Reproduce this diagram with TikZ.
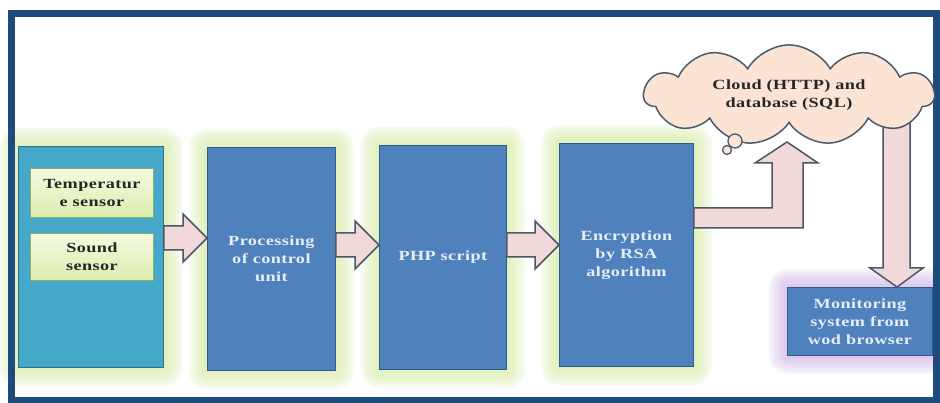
\documentclass[tikz,border=0pt]{standalone}
\usepackage{fontspec}
\setmainfont{Liberation Serif}
\newfontfamily\lblfont[FakeStretch=1.3,LetterSpace=3]{Liberation Serif}
\usetikzlibrary{shapes.symbols,calc}

\definecolor{framec}{HTML}{1F4A7C}
\definecolor{tealfill}{HTML}{45A8C8}
\definecolor{tealedge}{HTML}{2F6F8A}
\definecolor{sensTop}{HTML}{F4FAE0}
\definecolor{sensBot}{HTML}{DCEDB0}
\definecolor{sensEdge}{HTML}{8FAE70}
\definecolor{boxblue}{HTML}{4F81BD}
\definecolor{boxedge}{HTML}{2E5C8E}
\definecolor{boxtext}{HTML}{E6EEF8}
\definecolor{cloudfill}{HTML}{FCE4D4}
\definecolor{cloudedge}{HTML}{4D5A6A}
\definecolor{arrowfill}{HTML}{F2D9D9}
\definecolor{arrowedge}{HTML}{4D5566}
\definecolor{glowgreen}{HTML}{D6EDA6}
\definecolor{glowpurple}{HTML}{CDAEE3}

\pgfdeclarelayer{back}
\pgfdeclarelayer{glow}
\pgfsetlayers{back,glow,main}

% horizontal block arrow between two nodes: #1 from, #2 to, #3 centre y
\newcommand{\blockarrowh}[3]{%
  \draw[barrow] ($(#1.east |- 0,#3)+(0,-12)$) -- ($(#2.west |- 0,#3)+(-24,-12)$)
    -- ($(#2.west |- 0,#3)+(-24,-24)$) -- (#2.west |- 0,#3)
    -- ($(#2.west |- 0,#3)+(-24,24)$) -- ($(#2.west |- 0,#3)+(-24,12)$)
    -- ($(#1.east |- 0,#3)+(0,12)$) -- cycle;}

% soft halo behind a node: #1 node, #2 colour, #3 opacity per ring
\newcommand{\halo}[3]{%
  \begin{pgfonlayer}{glow}
    \foreach \d in {18,15,12,9,6,3}
      \fill[#2, opacity=#3, rounded corners=\d]
        ($(#1.north west)+(-\d,-\d)$) rectangle ($(#1.south east)+(\d,\d)$);
  \end{pgfonlayer}}

\begin{document}
\begin{tikzpicture}[x=1pt, y=-1pt,
  lbl/.style={font=\lblfont\bfseries\fontsize{14}{18}\selectfont, align=center},
  sensbox/.style={fill=tealfill, draw=tealedge, line width=0.8pt, anchor=north west},
  sbox/.style={lbl, top color=sensTop, bottom color=sensBot, draw=sensEdge,
    line width=0.8pt, text=black!85, anchor=north west, inner sep=0pt},
  blk/.style={lbl, fill=boxblue, draw=boxedge, line width=0.8pt, text=boxtext,
    anchor=north west, inner sep=0pt},
  barrow/.style={fill=arrowfill, draw=arrowedge, line width=1.5pt, line join=miter},
  cloudbox/.style={cloud, cloud puffs=11, cloud puff arc=120, aspect=3.2,
    fill=cloudfill, draw=cloudedge, line width=1.5pt, inner sep=0pt,
    minimum width=290, minimum height=90, lbl, text=black!85},
  bubble/.style={fill=cloudfill, draw=cloudedge, line width=1.3pt}]

\useasboundingbox (0,0) rectangle (940,403);
\begin{pgfonlayer}{back}
  \fill[white] (0,0) rectangle (940,403);
\end{pgfonlayer}

% outer frame
\draw[framec, line width=7pt] (11,14) rectangle (936,400);

% sensor panel
\node[sensbox, minimum width=145, minimum height=221] (sens) at (18,146) {};
\node[sbox, minimum width=123, minimum height=49] (temp) at (30,168) {Temperatur\\e sensor};
\node[sbox, minimum width=123, minimum height=47] (sound) at (30,233) {Sound\\sensor};

% processing chain
\node[blk, minimum width=128, minimum height=223] (proc) at (207,147) {Processing\\of control\\unit};
\node[blk, minimum width=127, minimum height=224] (php) at (379,145) {PHP script};
\node[blk, minimum width=134, minimum height=223] (enc) at (559,143) {Encryption\\by RSA\\algorithm};
\node[blk, minimum width=145, minimum height=68] (mon) at (787,287) {Monitoring\\system from\\wod browser};

\halo{sens}{glowgreen}{0.18}
\halo{proc}{glowgreen}{0.18}
\halo{php}{glowgreen}{0.18}
\halo{enc}{glowgreen}{0.18}
\halo{mon}{glowpurple}{0.14}

% arrows along the chain
\blockarrowh{sens}{proc}{238}
\blockarrowh{proc}{php}{245}
\blockarrowh{php}{enc}{245}

% down arrow from the cloud to the browser
\coordinate (dtop) at (883,112);
\draw[barrow] (dtop) -- (883,268) -- (870,268) -- (897,0 |- mon.north)
  -- (923,268) -- (910,268) -- (910,112) -- cycle;

% cloud
\node[cloudbox] (cloud) at (789,95) {Cloud (HTTP) and\\database (SQL)};
\node[bubble, circle, minimum size=14, inner sep=0pt] (b1) at (735,141) {};
\node[bubble, circle, minimum size=9, inner sep=0pt] (b2) at (727,150) {};

% bent arrow up into the cloud
\coordinate (utip) at (787,142);
\draw[barrow] (enc.east |- 0,208) -- (772,208) -- (772,163) -- (755,163) -- (utip)
  -- (818,163) -- (803,163) -- (803,228) -- (enc.east |- 0,228) -- cycle;

\end{tikzpicture}
\end{document}
